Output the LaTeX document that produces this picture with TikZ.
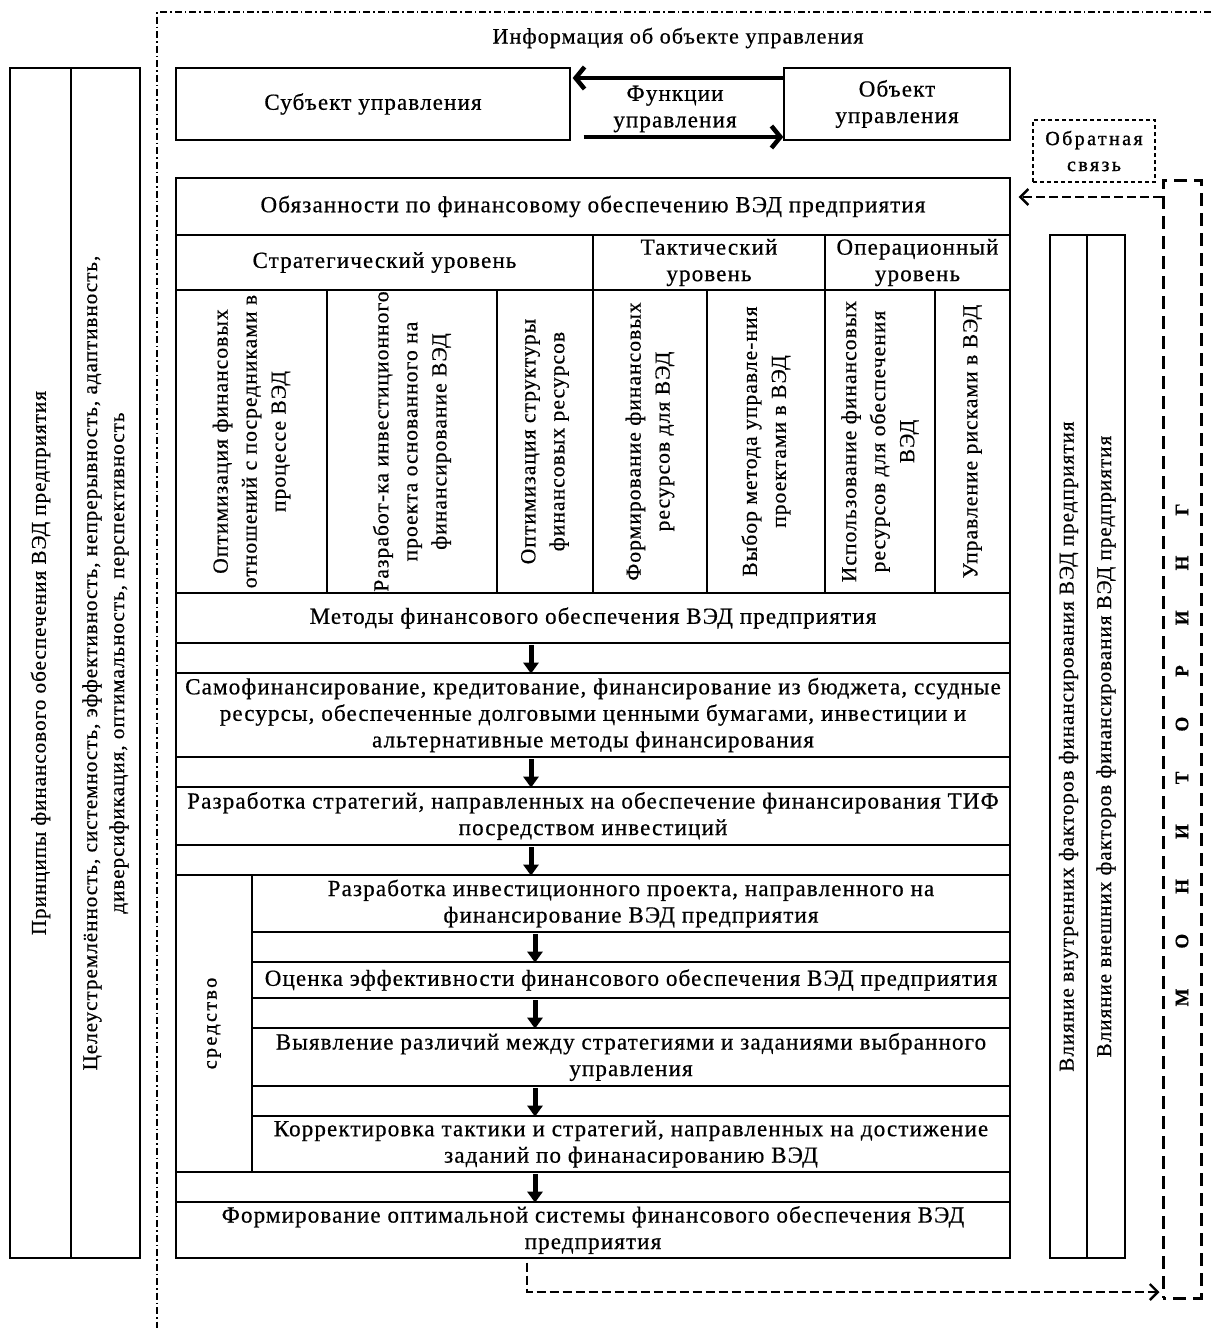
\documentclass[tikz,border=0pt]{standalone}
\usepackage{fontspec}
\setmainfont{Liberation Serif}[LetterSpace=5,FakeBold=0.6]
\newfontfamily\widefont{Liberation Serif}[LetterSpace=12,FakeBold=1.2]
\usetikzlibrary{arrows.meta}
\newcommand\rbox[7][]{%
  \pgfmathsetmacro\rbW{#5-#3}\pgfmathsetmacro\rbH{#6-#4}%
  \node[box,minimum width=\rbW pt,minimum height=\rbH pt,#1] (#2) at ({(#3+#5)/2},{(#4+#6)/2}) {#7};}
\newcommand\rotbox[7][]{%
  \pgfmathsetmacro\rbW{#5-#3}\pgfmathsetmacro\rbH{#6-#4}%
  \node[box,minimum width=\rbW pt,minimum height=\rbH pt] (#2) at ({(#3+#5)/2},{(#4+#6)/2}) {};
  \node[rotate=90, align=center, inner sep=0pt, #1] (#2t) at (#2.center) {#7};}
\newcommand\mgap{\hspace{40pt}}
\begin{document}
\begin{tikzpicture}[x=1pt,y=-1pt,
  box/.style={draw, line width=1.3pt, inner sep=1pt, align=center, font=\fontsize{23}{26.5}\selectfont},
  txt/.style={align=center, inner sep=0pt, font=\fontsize{23}{26.5}\selectfont},
  colf/.style={font=\fontsize{21.5}{29}\selectfont},
  sidef/.style={font=\fontsize{21}{27}\selectfont},
  down/.style={line width=5pt, -{Triangle[width=15pt,length=11pt]}},
  bigarr/.style={line width=4.5pt, -{Straight Barb[length=9pt,width=22pt]}},
  fb/.style={line width=2.4pt, dash pattern=on 9pt off 4pt, -{Straight Barb[length=8pt,width=16pt]}},
  frame/.style={line width=1.1pt, dash pattern=on 7pt off 3pt on 1.5pt off 3pt}
]
\useasboundingbox (0,0) rectangle (1211,1328);
% outer dash-dot frame
\draw[frame] (1211,12) -- (157,12) -- (157,1328);
\node[txt, font=\fontsize{22}{26}\selectfont] (info) at (678,38) {Информация об объекте управления};
% top
\rbox{subj}{176}{68}{570}{140}{Субъект управления}
\rbox{obj}{784}{68}{1010}{140}{Объект\\управления}
\node[txt] (func) at (675,109) {Функции\\управления};
\draw[bigarr] ([yshift=26pt]obj.west) -- ([xshift=2pt,yshift=26pt]subj.east);
\draw[bigarr] ([xshift=13pt,yshift=-33pt]subj.east) -- ([yshift=-33pt]obj.west);
% feedback label
\rbox[dash pattern=on 4pt off 3pt, line width=1.1pt, font=\widefont\fontsize{20}{26}\selectfont]{fbl}{1033}{120}{1155}{182}{Обратная\\связь}
% obligations
\rbox{oblig}{176}{178}{1010}{235}{Обязанности по финансовому обеспечению ВЭД предприятия}
\rbox{strat}{176}{235}{593}{290}{Стратегический уровень}
\rbox{tact}{593}{235}{825}{290}{Тактический\\уровень}
\rbox{oper}{825}{235}{1010}{290}{Операционный\\уровень}
% columns
\rotbox[colf]{c1}{176}{290}{327}{593}{Оптимизация финансовых\\отношений с посредниками в\\процессе ВЭД}
\rotbox[colf]{c2}{327}{290}{497}{593}{Разработ-ка инвестиционного\\проекта основанного на\\финансирование ВЭД}
\rotbox[colf]{c3}{497}{290}{593}{593}{Оптимизация структуры\\финансовых ресурсов}
\rotbox[colf]{c4}{593}{290}{707}{593}{Формирование финансовых\\ресурсов для ВЭД}
\rotbox[colf]{c5}{707}{290}{825}{593}{Выбор метода управле-ния\\проектами в ВЭД}
\rotbox[colf]{c6}{825}{290}{935}{593}{Использование финансовых\\ресурсов для обеспечения\\ВЭД}
\rotbox[colf]{c7}{935}{290}{1010}{593}{Управление рисками в ВЭД}
% methods chain
\rbox{meth}{176}{593}{1010}{643}{Методы финансового обеспечения ВЭД предприятия}
\rbox{a1}{176}{643}{1010}{673}{}
\rbox{self}{176}{673}{1010}{757}{Самофинансирование, кредитование, финансирование из бюджета, ссудные\\ресурсы, обеспеченные долговыми ценными бумагами, инвестиции и\\альтернативные методы финансирования}
\rbox{a2}{176}{757}{1010}{787}{}
\rbox{strg}{176}{787}{1010}{845}{Разработка стратегий, направленных на обеспечение финансирования ТИФ\\посредством инвестиций}
\rbox{a3}{176}{845}{1010}{875}{}
\rotbox[font=\widefont\fontsize{20}{26}\selectfont]{sred}{176}{875}{252}{1172}{средство}
\rbox{proj}{252}{875}{1010}{932}{Разработка инвестиционного проекта, направленного на\\финансирование ВЭД предприятия}
\rbox{a4}{252}{932}{1010}{962}{}
\rbox{eval}{252}{962}{1010}{998}{Оценка эффективности финансового обеспечения ВЭД предприятия}
\rbox{a5}{252}{998}{1010}{1028}{}
\rbox{diff}{252}{1028}{1010}{1086}{Выявление различий между стратегиями и заданиями выбранного\\управления}
\rbox{a6}{252}{1086}{1010}{1116}{}
\rbox{corr}{252}{1116}{1010}{1172}{Корректировка тактики и стратегий, направленных на достижение\\заданий по финанасированию ВЭД}
\rbox{a7}{176}{1172}{1010}{1202}{}
\rbox{form}{176}{1202}{1010}{1258}{Формирование оптимальной системы финансового обеспечения ВЭД\\предприятия}
% down arrows
\coordinate (ax) at (531,0);
\coordinate (bx) at (535,0);
\foreach \r in {a1,a2,a3}{\draw[down] ([yshift=-3pt]\r.north -| ax) -- (\r.south -| ax);}
\foreach \r in {a4,a5,a6,a7}{\draw[down] ([yshift=-3pt]\r.north -| bx) -- (\r.south -| bx);}
% left principles
\rotbox[sidef]{prA}{10}{68}{71}{1258}{Принципы финансового обеспечения ВЭД предприятия}
\rotbox[sidef]{prB}{71}{68}{140}{1258}{Целеустремлённость, системность, эффективность, непрерывность, адаптивность,\\диверсификация, оптимальность, перспективность}
% right influences
\rotbox[sidef]{inf1}{1050}{235}{1087}{1258}{Влияние внутренних факторов финансирования ВЭД предприятия}
\rotbox[sidef]{inf2}{1087}{235}{1125}{1258}{Влияние внешних факторов финансирования ВЭД предприятия}
% monitoring
\rbox[line width=3pt, dash pattern=on 13pt off 7pt, dash phase=10pt]{mon}{1163}{180}{1201}{1298}{}
\node[rotate=90, inner sep=0pt, font=\bfseries\fontsize{19}{22}\selectfont] (montxt) at ([yshift=-16pt]mon.center)
  {М\mgap О\mgap Н\mgap И\mgap Т\mgap О\mgap Р\mgap И\mgap Н\mgap Г};
% feedback arrows
\coordinate (fbt) at ([xshift=8pt,yshift=9.5pt]oblig.east);
\draw[fb] (mon.west |- fbt) -- (fbt);
\coordinate (fbb) at (527,1292);
\draw[fb, shorten >=2pt] ([yshift=-4pt]form.south -| fbb) |- (mon.west |- fbb);
\end{tikzpicture}
\end{document}
